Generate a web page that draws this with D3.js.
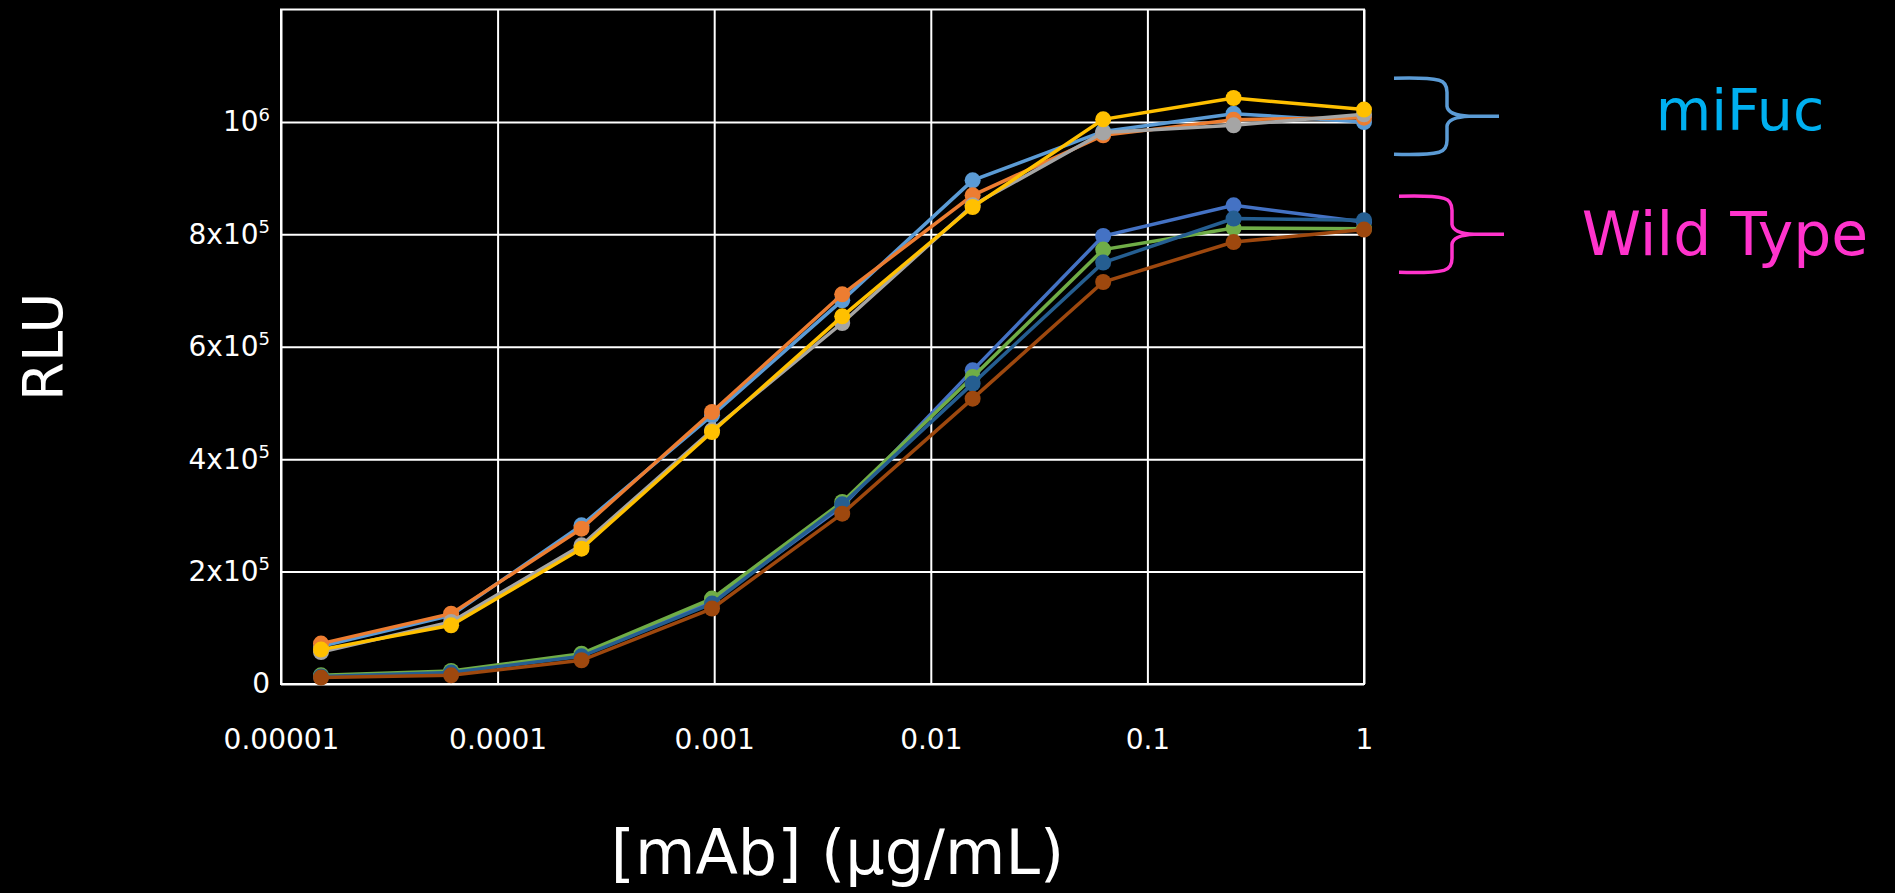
<!DOCTYPE html>
<html lang="en">
<head>
  <meta charset="UTF-8" />
  <title>RLU vs mAb</title>
  <script src="https://d3js.org/d3.v7.min.js"></script>
  <style>
    body { margin: 0; background: #000; }
    svg { display: block; background: #000; }
    text { font-family: "DejaVu Sans", sans-serif; fill: #fff; }
    .grid line { stroke: #fff; stroke-width: 2px; }
  </style>
</head>
<body>
  <svg width="1895" height="893"></svg>
  <script>
    // concentration (µg/mL), 4-fold dilutions
    const conc = [0.0000153, 0.000061, 0.000244, 0.000977, 0.0039, 0.0156, 0.0625, 0.25, 1];

    const seriesNames = ["miFuc 1", "miFuc 2", "miFuc 3", "miFuc 4", "WT 1", "WT 2", "WT 3", "WT 4"];
    const seriesColors = ["#5b9bd5", "#ed7d31", "#a5a5a5", "#ffc000", "#4472c4", "#70ad47", "#255e91", "#9e480e"];

    const mifuc1 = [67100, 122200, 282300, 478000, 682600, 896000, 983000, 1014700, 999800];
    const mifuc2 = [71900, 125200, 276400, 483900, 693300, 869400, 976100, 1004000, 1007600];
    const mifuc3 = [56900, 110300, 246700, 451300, 642200, 851600, 981000, 994000, 1013500];
    const mifuc4 = [61200, 104400, 240800, 448300, 654100, 848600, 1004600, 1042500, 1021900];
    const wt1 = [14200, 21300, 51000, 145900, 316000, 558000, 797000, 851600, 822000];
    const wt2 = [15500, 23100, 54000, 151900, 323800, 546100, 772800, 811200, 810000];
    const wt3 = [13500, 20300, 49300, 143000, 319700, 534400, 749700, 828000, 825000];
    const wt4 = [11400, 15500, 42200, 134100, 303100, 507700, 715200, 786300, 808400];
    const seriesValues = [mifuc1, mifuc2, mifuc3, mifuc4, wt1, wt2, wt3, wt4];

    const xTicks = [0.00001, 0.0001, 0.001, 0.01, 0.1, 1];
    const xTickLabels = ["0.00001", "0.0001", "0.001", "0.01", "0.1", "1"];
    const yTicks = [0, 200000, 400000, 600000, 800000, 1000000];
    const yTickBase = ["0", "2x10", "4x10", "6x10", "8x10", "10"];
    const yTickExp = ["", "5", "5", "5", "5", "6"];

    const groupNames = ["miFuc", "Wild Type"];
    const groupColors = ["#00b0f0", "#ff33cc"];
    const braceColors = ["#5b9bd5", "#ff33cc"];
    const groupLevels = [1010000, 800000];

    const svg = d3.select("svg");
    const plotLeft = 281, plotRight = 1364, plotTop = 9.5, plotBottom = 684;

    const x = d3.scaleLog().domain([1e-5, 1]).range([plotLeft, plotRight]);
    const y = d3.scaleLinear().domain([0, 1200000]).range([plotBottom, plotTop]);

    // x axis + vertical grid
    const xAxis = svg.append("g")
      .attr("class", "grid")
      .attr("transform", `translate(0,${plotBottom})`)
      .call(d3.axisBottom(x)
        .tickValues(xTicks)
        .tickSize(-(plotBottom - plotTop))
        .tickPadding(45)
        .tickFormat((d, i) => xTickLabels[i]));
    xAxis.select(".domain").remove();
    xAxis.selectAll("text").attr("font-size", 28).attr("fill", "#fff");

    // y axis + horizontal grid
    const yAxis = svg.append("g")
      .attr("class", "grid")
      .attr("transform", `translate(${plotLeft},0)`)
      .call(d3.axisLeft(y)
        .tickValues(yTicks)
        .tickSize(-(plotRight - plotLeft))
        .tickPadding(11)
        .tickFormat(""));
    yAxis.select(".domain").remove();
    yAxis.selectAll(".tick text").each(function (d, i) {
      const t = d3.select(this).attr("font-size", 28).attr("fill", "#fff");
      t.append("tspan").text(yTickBase[i]);
      if (yTickExp[i]) {
        t.append("tspan").attr("font-size", 18).attr("dy", "-0.6em").text(yTickExp[i]);
      }
    });

    // plot border
    svg.append("rect")
      .attr("x", plotLeft).attr("y", plotTop)
      .attr("width", plotRight - plotLeft).attr("height", plotBottom - plotTop)
      .attr("fill", "none").attr("stroke", "#fff").attr("stroke-width", 2);

    // series
    const line = d3.line().x(d => x(d[0])).y(d => y(d[1]));
    seriesValues.forEach((vals, s) => {
      const pts = conc.map((c, i) => [c, vals[i]]);
      const g = svg.append("g").attr("class", "series").attr("data-name", seriesNames[s]);
      g.append("path")
        .datum(pts)
        .attr("d", line)
        .attr("fill", "none")
        .attr("stroke", seriesColors[s])
        .attr("stroke-width", 3.5);
      g.selectAll("circle")
        .data(pts)
        .join("circle")
        .attr("cx", d => x(d[0]))
        .attr("cy", d => y(d[1]))
        .attr("r", 8)
        .attr("fill", seriesColors[s]);
    });

    // axis titles
    svg.append("text")
      .attr("transform", `translate(42,${(plotTop + plotBottom) / 2}) rotate(-90)`)
      .attr("text-anchor", "middle")
      .attr("dominant-baseline", "central")
      .attr("font-size", 56)
      .text("RLU");

    svg.append("text")
      .attr("x", (plotLeft + plotRight) / 2 + 15)
      .attr("y", 874)
      .attr("text-anchor", "middle")
      .attr("font-size", 62)
      .text("[mAb] (µg/mL)");

    // group braces and labels
    function brace(xl, xv, xt, ym, h) {
      const yt = ym - h / 2, yb = ym + h / 2;
      return `M${xl},${yt} Q${xv - 20},${yt - 1} ${xv - 8},${yt + 2} Q${xv},${yt + 4} ${xv},${yt + 14}` +
        ` L${xv},${ym - 10} Q${xv + 1},${ym - 1} ${xv + 22},${ym} L${xt},${ym}` +
        ` M${xv + 22},${ym} Q${xv + 1},${ym + 1} ${xv},${ym + 10} L${xv},${yb - 14}` +
        ` Q${xv},${yb - 4} ${xv - 8},${yb - 2} Q${xv - 20},${yb + 1} ${xl},${yb}`;
    }

    const labelX = [1740, 1725];
    const labelSize = [57, 60];
    const labelDy = [14, 21];
    groupNames.forEach((name, i) => {
      const ym = y(groupLevels[i]);
      const off = i * 5;
      svg.append("path")
        .attr("d", brace(plotRight + 30 + off, plotRight + 83 + off, plotRight + 135 + off, ym, 76))
        .attr("fill", "none")
        .attr("stroke", braceColors[i])
        .attr("stroke-width", 3.5);
      svg.append("text")
        .attr("x", labelX[i])
        .attr("y", ym + labelDy[i])
        .attr("text-anchor", "middle")
        .attr("font-size", labelSize[i])
        .style("fill", groupColors[i])
        .text(name);
    });
  </script>
</body>
</html>
